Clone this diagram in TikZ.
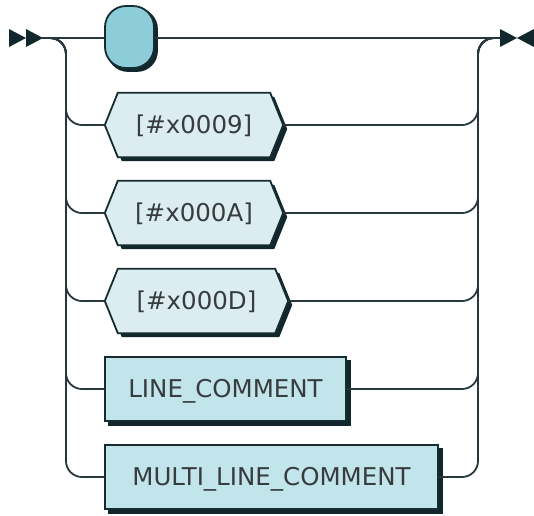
\documentclass[tikz,border=0pt]{standalone}
\usepackage{fontspec}
\setmainfont{DejaVu Sans}
\usetikzlibrary{backgrounds}
\definecolor{railc}{RGB}{38,56,60}
\definecolor{edgec}{RGB}{22,44,48}
\definecolor{shadc}{RGB}{16,40,44}
\definecolor{topfill}{RGB}{140,205,217}
\definecolor{boxfill}{RGB}{194,228,235}
\definecolor{hexfill}{RGB}{220,237,242}
\definecolor{txtc}{RGB}{55,60,62}
\tikzset{
  rail/.style={draw=railc, line width=1.8pt, rounded corners=16pt},
  termbox/.style={draw=edgec, line width=1.8pt, fill=boxfill, minimum height=64pt,
    inner sep=0pt, text=txtc, font=\fontsize{24.5}{28}\selectfont, text height=17.5pt, text depth=0pt},
  hexnode/.style={minimum height=64pt, inner sep=0pt, text=txtc,
    font=\fontsize{24.5}{28}\selectfont, text height=17.5pt, text depth=0pt},
  hexshape/.style={draw=edgec, line width=1.8pt, fill=hexfill, line join=miter},
  topbox/.style={draw=edgec, line width=1.8pt, fill=topfill, rounded corners=21pt,
    minimum width=49pt, minimum height=62pt, inner sep=0pt},
  arrowtip/.style={fill=shadc, draw=none}
}
\newcommand{\hexdraw}[1]{%
  \fill[shadc] ([shift={(4,4)}]#1.west) -- ([shift={(17,4)}]#1.north west) -- ([shift={(-9,4)}]#1.north east) -- ([shift={(4,4)}]#1.east) -- ([shift={(-9,4)}]#1.south east) -- ([shift={(17,4)}]#1.south west) -- cycle;
  \path[hexshape] (#1.west) -- ([xshift=13]#1.north west) -- ([xshift=-13]#1.north east) -- (#1.east) -- ([xshift=-13]#1.south east) -- ([xshift=13]#1.south west) -- cycle;
}
\newcommand{\rectshadow}[1]{%
  \fill[shadc] ([shift={(4,4)}]#1.north west) rectangle ([shift={(4,4)}]#1.south east);
}
\begin{document}
\begin{tikzpicture}[x=1pt,y=-1pt]
\useasboundingbox (0,0) rectangle (534,515);
% coordinates
\coordinate (startc) at (42,38);
\coordinate (L) at (48,38);
\coordinate (lvx) at (66,38);
\coordinate (rvx) at (478,38);
\coordinate (R) at (496,38);
\coordinate (endc) at (500,38);
% nodes
\node[topbox] (top) at (129.5,37) {};
\node[hexnode, minimum width=178pt] (h1) at (194,125) {[\#x0009]};
\node[hexnode, minimum width=178pt] (h2) at (194,213) {[\#x000A]};
\node[hexnode, minimum width=183pt] (h3) at (196.5,301) {[\#x000D]};
\node[termbox, minimum width=241pt] (lc) at (225.5,389) {LINE\_COMMENT};
\node[termbox, minimum width=333pt] (mlc) at (271.5,477) {MULTI\_LINE\_COMMENT};
\begin{scope}[on background layer]
  \fill[shadc] ([shift={(3,3)}]top.north west) [rounded corners=21pt] rectangle ([shift={(3,3)}]top.south east);
  \hexdraw{h1}
  \hexdraw{h2}
  \hexdraw{h3}
  \rectshadow{lc}
  \rectshadow{mlc}
\end{scope}
% start / end markers
\fill[arrowtip] (9,29) -- (26,38) -- (9,47) -- cycle;
\fill[arrowtip] (26,29) -- (43,38) -- (26,47) -- cycle;
\fill[arrowtip] (500,29) -- (517,38) -- (500,47) -- cycle;
\fill[arrowtip] (534,29) -- (517,38) -- (534,47) -- cycle;
% main line
\draw[rail] (startc) -- (top.west |- startc);
\draw[rail] (top.east |- startc) -- (endc);
% branches
\foreach \n in {h1,h2,h3,lc,mlc}{
  \draw[rail] (L) -| (\n.west -| lvx) -- (\n.west);
  \draw[rail] (\n.east) -- (\n.east -| rvx) |- (R);
}
\end{tikzpicture}
\end{document}
